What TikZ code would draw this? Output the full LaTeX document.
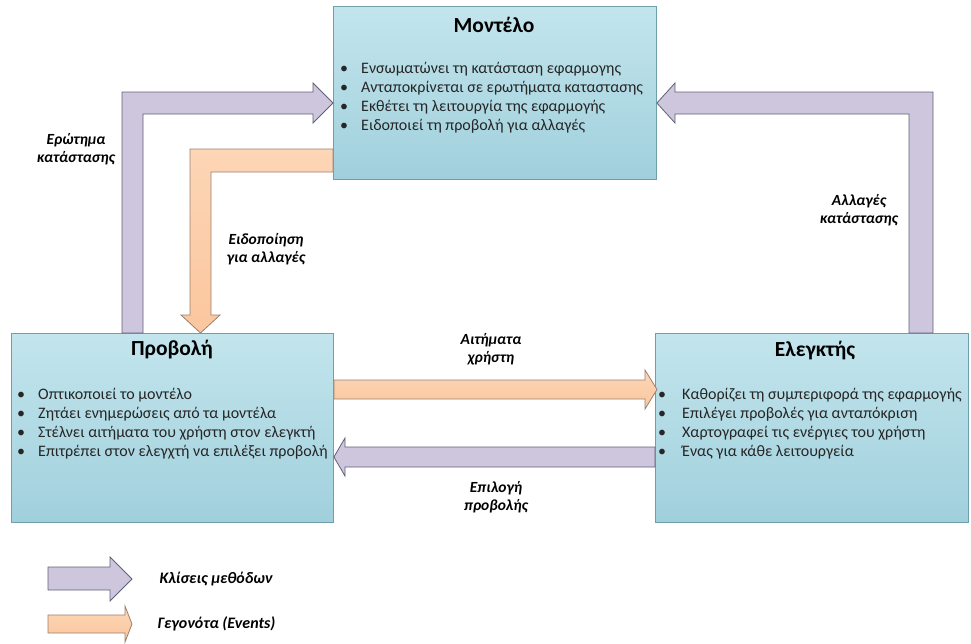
\documentclass[tikz,border=0pt]{standalone}
\usepackage{fontspec}
\setmainfont{Carlito}
\usetikzlibrary{calc}
\definecolor{boxtop}{HTML}{C3E5ED}
\definecolor{boxbot}{HTML}{A0D0DC}
\definecolor{boxline}{HTML}{6F9FAD}
\definecolor{lavfill}{HTML}{CEC6DD}
\definecolor{lavline}{HTML}{606078}
\definecolor{orfill}{HTML}{FAC69E}
\definecolor{orlight}{HTML}{FDD6B6}
\definecolor{orline}{HTML}{9A8070}
\definecolor{itemtext}{HTML}{262626}

\begin{document}
\begin{tikzpicture}[x=1pt,y=-1pt,
  panel/.style={draw=boxline, line width=0.9pt, top color=boxtop, bottom color=boxbot,
    anchor=north west, inner sep=0pt},
  lav/.style={draw=lavline, line width=0.8pt, fill=lavfill, line join=miter},
  ora/.style={draw=orline, line width=0.8pt, top color=orlight, bottom color=orfill, line join=miter},
  paneltitle/.style={font=\fontsize{21.5}{24}\selectfont\bfseries, text=black},
  items/.style={font=\fontsize{16}{19}\selectfont, text=itemtext, anchor=north west, inner sep=0pt},
  lbl/.style={font=\fontsize{15.5}{18}\selectfont\bfseries\itshape, align=center, text=black},
  legendtext/.style={font=\fontsize{16}{18}\selectfont\bfseries\itshape, anchor=west, text=black}]
\useasboundingbox (0,0) rectangle (971,643);

% the three components
\node[panel, minimum width=323pt, minimum height=173pt] (model) at (333,6) {};
\node[panel, minimum width=322pt, minimum height=189pt] (view) at (11,333) {};
\node[panel, minimum width=313pt, minimum height=189pt] (ctrl) at (655,333) {};

\node[paneltitle] (modeltitle) at (494,25) {Μοντέλο};
\node[paneltitle] (viewtitle) at (172,350) {Προβολή};
\node[paneltitle] (ctrltitle) at (815,351) {Ελεγκτής};

\node[items] (modelitems) at (340,60) {\begin{tabular}{@{}p{21pt}@{}l@{}}
\textbullet & Ενσωματώνει τη κατάσταση εφαρμογης\\
\textbullet & Ανταποκρίνεται σε ερωτήματα καταστασης\\
\textbullet & Εκθέτει τη λειτουργία της εφαρμογής\\
\textbullet & Ειδοποιεί τη προβολή για αλλαγές
\end{tabular}};

\node[items] (viewitems) at (17,386) {\begin{tabular}{@{}p{21pt}@{}l@{}}
\textbullet & Οπτικοποιεί το μοντέλο\\
\textbullet & Ζητάει ενημερώσεις από τα μοντέλα\\
\textbullet & Στέλνει αιτήματα του χρήστη στον ελεγκτή\\
\textbullet & Επιτρέπει στον ελεγχτή να επιλέξει προβολή
\end{tabular}};

\node[items] (ctrlitems) at (658,386) {\begin{tabular}{@{}p{24pt}@{}l@{}}
\textbullet & Καθορίζει τη συμπεριφορά της εφαρμογής\\
\textbullet & Επιλέγει προβολές για ανταπόκριση\\
\textbullet & Χαρτογραφεί τις ενέργιες του χρήστη\\
\textbullet & Ένας για κάθε λειτουργεία
\end{tabular}};

% view -> model: state query
\draw[lav] (view.north west -| 122,0) -- (122,92) -- (313,92) -- (313,83)
  -- (model.west |- 0,103) -- (313,123) -- (313,114) -- (143,114)
  -- (view.north west -| 143,0) -- cycle;

% model -> view: change notification
\draw[ora] (model.west |- 0,149) -- (190,149) -- (190,315) -- (181,315)
  -- (view.north west -| 200.5,0) -- (220,315) -- (211,315) -- (211,172)
  -- (model.west |- 0,172) -- cycle;

% controller -> model: state changes
\draw[lav] (ctrl.north west -| 933,0) -- (933,92) -- (675,92) -- (675,83)
  -- (model.east |- 0,103) -- (675,123) -- (675,114) -- (909,114)
  -- (ctrl.north west -| 909,0) -- cycle;

% view -> controller: user requests
\draw[ora] (view.east |- 0,380) -- (645,380) -- (645,370) -- (657,389.5)
  -- (645,409) -- (645,399) -- (view.east |- 0,399) -- cycle;

% controller -> view: view selection
\draw[lav] (ctrl.west |- 0,447) -- (345,447) -- (345,438) -- (view.east |- 0,457)
  -- (345,476) -- (345,467) -- (ctrl.west |- 0,467) -- cycle;

% connector labels
\node[lbl] (lquery) at (76,149) {Ερώτημα\\κατάστασης};
\node[lbl] (lnotify) at (266,249) {Ειδοποίηση\\για αλλαγές};
\node[lbl] (lchanges) at (859,210) {Αλλαγές\\κατάστασης};
\node[lbl] (lrequests) at (491,349) {Αιτήματα\\χρήστη};
\node[lbl] (lselect) at (496,497) {Επιλογή\\προβολής};

% legend
\draw[lav] (48,567) -- (110,567) -- (110,557) -- (132,579) -- (110,601)
  -- (110,590) -- (48,590) -- cycle;
\draw[ora] (48,615) -- (125,615) -- (125,606) -- (132,624) -- (125,642)
  -- (125,633) -- (48,633) -- cycle;
\node[legendtext] (legcalls) at (156,579) {Κλίσεις μεθόδων};
\node[legendtext] (legevents) at (154,624) {Γεγονότα (Events)};
\end{tikzpicture}
\end{document}
